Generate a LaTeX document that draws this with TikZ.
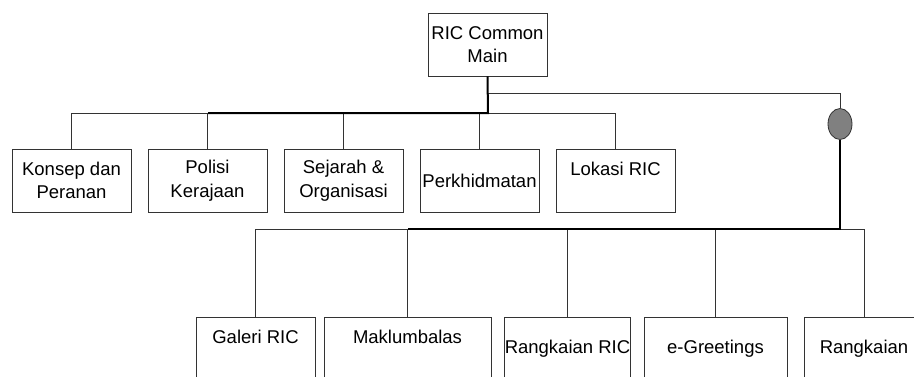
\documentclass[tikz,border=0pt]{standalone}
\usepackage{fontspec}
\setmainfont{Liberation Sans}
\usetikzlibrary{shapes.geometric}
\usetikzlibrary{positioning}
\newcommand{\menufont}{\fontsize{18.5}{23.5}\selectfont}
\tikzset {
  % page box
  page/.style = {
    draw = black!80,
    rectangle,
    line width = 0.8pt,
    minimum width = 119pt,
    minimum height = 63pt,
    inner sep = 0,
    align = center,
    font = \menufont
  },
  wide page/.style = {
    page,
    minimum width = #1
  },
  % grey junction
  hub/.style = {
    draw = black!80,
    ellipse,
    fill = black!50,
    line width = 0.8pt,
    minimum width = 24pt,
    minimum height = 31pt,
    inner sep = 0
  }
}
\tikzset {
  link/.style = {
    draw = black!80,
    line width = 0.8pt
  },
  % main path
  main link/.style = {
    draw = black,
    line width = 2pt
  }
}

\begin{document}
\begin{tikzpicture}[x=1pt, y=-1pt]
    \useasboundingbox (0,0) rectangle (914,376);
    \clip (0,0) rectangle (914,376);

    \node[page] (main) at (487.5,44.5) {RIC Common\\Main};

    \node[page] (konsep) at (71.5,180.5) {Konsep dan\\Peranan};
    \node[page] (polisi) at (207.5,180.5) {Polisi\\Kerajaan};
    \node[page] (sejarah) at (343.5,180.5) {Sejarah \&\\Organisasi};
    \node[page] (khidmat) at (479.5,180.5) {Perkhidmatan};
    \node[page] (lokasi) at (615.5,180.5) {Lokasi RIC\\\mbox{}};

    \node[hub] (hub) at (840,124) {};

    \node[page] (galeri) at (255.5,348.5) {Galeri RIC\\\mbox{}};
    \node[wide page=167pt] (maklum) at (407.5,348.5) {Maklumbalas\\\mbox{}};
    \node[page] (rangkaian-ric) at (567.5,348.5) {Rangkaian RIC};
    \node[wide page=143pt] (greetings) at (715.5,348.5) {e-Greetings};
    \node[wide page=120pt] (rangkaian) at (864,348.5) {Rangkaian};

    \coordinate (hub-split) at (488,93);
    \coordinate (top-bus) at (488,113);
    \coordinate (top-bus-end) at (208,113);
    \coordinate (low-bus) at (840,229);
    \coordinate (low-bus-end) at (408,229);

    \draw[link] (top-bus) -| (konsep.north);
    \draw[link] (top-bus) -| (polisi.north);
    \draw[link] (top-bus) -| (sejarah.north);
    \draw[link] (top-bus) -| (khidmat.north);
    \draw[link] (top-bus) -| (lokasi.north);
    \draw[link] (hub-split) -| (hub.north);

    \draw[link] (low-bus) -| (galeri.north);
    \draw[link] (low-bus) -| (maklum.north);
    \draw[link] (low-bus) -| (rangkaian-ric.north);
    \draw[link] (low-bus) -| (greetings.north);
    \draw[link] (low-bus) -| (rangkaian.north);

    \draw[main link] (main.south) -- (top-bus) -- (top-bus-end);
    \draw[main link] (hub.south) -- (low-bus) -- (low-bus-end);
  \end{tikzpicture}
\end{document}
